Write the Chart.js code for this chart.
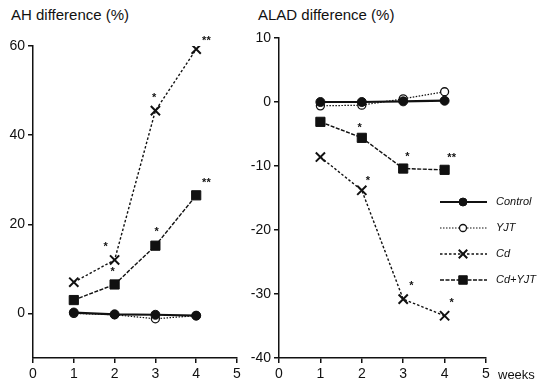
<!DOCTYPE html>
<html>
<head>
<meta charset="utf-8">
<script src="https://cdn.jsdelivr.net/npm/chart.js@4/dist/chart.umd.min.js"></script>
<style>
  body { margin: 0; background: #fff; width: 538px; height: 387px; position: relative; overflow: hidden;
         font-family: "Liberation Sans", Arial, sans-serif; color: #111; }
  .box { position: absolute; top: 0; height: 387px; }
  #leftBox { left: 0; width: 250px; }
  #rightBox { left: 250px; width: 288px; }
  .title { position: absolute; top: 6px; font-size: 15px; white-space: nowrap; }
</style>
</head>
<body>
<div class="title" style="left:11px">AH difference (%)</div>
<div class="title" style="left:258px">ALAD difference (%)</div>
<div class="box" id="leftBox"><canvas id="ahChart"></canvas></div>
<div class="box" id="rightBox"><canvas id="aladChart"></canvas></div>
<script>
// weeks and series values
const weeks = [1, 2, 3, 4];
const seriesNames = ['Control', 'YJT', 'Cd', 'Cd+YJT'];

const ahControl = [0.2, -0.2, -0.3, -0.5];
const ahYJT = [0, -0.3, -1.2, -0.5];
const ahCd = [7, 12, 45.5, 59.3];
const ahCdYJT = [3, 6.5, 15.2, 26.5];
const ahTicks = [0, 20, 40, 60];

const aladControl = [0, 0, 0.1, 0.2];
const aladYJT = [-0.6, -0.5, 0.5, 1.6];
const aladCd = [-8.6, -13.8, -30.8, -33.4];
const aladCdYJT = [-3.1, -5.6, -10.4, -10.6];
const aladTicks = [-40, -30, -20, -10, 0, 10];

const weekTicks = [0, 1, 2, 3, 4, 5];

// significance marks (x in weeks, y in %)
const ahStars = [
  { x: 1.78, y: 14.8, t: '*' }, { x: 1.95, y: 9.2, t: '*' },
  { x: 2.97, y: 48.3, t: '*' }, { x: 3.03, y: 18.3, t: '*' },
  { x: 4.25, y: 61.2, t: '**' }, { x: 4.25, y: 29.2, t: '**' }
];
const aladStars = [
  { x: 1.95, y: -4.1, t: '*' }, { x: 2.15, y: -12.4, t: '*' },
  { x: 3.1, y: -8.6, t: '*' }, { x: 4.17, y: -8.8, t: '**' },
  { x: 3.2, y: -28.7, t: '*' }, { x: 4.17, y: -31.4, t: '*' }
];

const ink = '#111';

const styles = [
  { borderDash: [], borderWidth: 2.2, pointStyle: 'circle', pointRadius: 4.5, bg: ink, pbw: 1 },
  { borderDash: [1.5, 1.5], borderWidth: 1.2, pointStyle: 'circle', pointRadius: 4, bg: '#fff', pbw: 1.3 },
  { borderDash: [2.5, 2], borderWidth: 1.4, pointStyle: 'crossRot', pointRadius: 6.5, bg: ink, pbw: 2 },
  { borderDash: [4, 1.5], borderWidth: 1.4, pointStyle: 'rect', pointRadius: 6.5, bg: ink, pbw: 1 }
];

function makeDatasets(values) {
  return values.map((vals, i) => ({
    label: seriesNames[i],
    data: weeks.map((w, j) => ({ x: w, y: vals[j] })),
    borderColor: ink,
    backgroundColor: styles[i].bg,
    borderWidth: styles[i].borderWidth,
    borderDash: styles[i].borderDash,
    pointStyle: styles[i].pointStyle,
    pointRadius: styles[i].pointRadius,
    pointBorderWidth: styles[i].pbw,
    pointBorderColor: ink,
    pointBackgroundColor: styles[i].bg,
    tension: 0,
    order: i === 0 ? 0 : i === 1 ? 1 : 2
  }));
}

function axis(min, max, tickList, fit) {
  return {
    type: 'linear', min: min, max: max,
    afterBuildTicks: s => { s.ticks = tickList.map(v => ({ value: v })); },
    ticks: { color: ink, font: { size: 14, family: '"Liberation Sans", Arial' }, padding: 3 },
    grid: { drawOnChartArea: false, tickLength: 5, color: ink, lineWidth: 1.5 },
    border: { color: ink, width: 1.5 },
    afterFit: fit
  };
}

const starsPlugin = {
  id: 'stars',
  afterDatasetsDraw(chart, args, opts) {
    const ctx = chart.ctx;
    const xs = chart.scales.x, ys = chart.scales.y;
    ctx.save();
    ctx.fillStyle = ink;
    ctx.font = 'bold 11px "Liberation Sans", Arial';
    ctx.textAlign = 'center';
    ctx.textBaseline = 'middle';
    opts.marks.forEach(m => ctx.fillText(m.t, xs.getPixelForValue(m.x), ys.getPixelForValue(m.y)));
    ctx.restore();
  }
};

const legendPlugin = {
  id: 'sideLegend',
  afterDraw(chart, args, opts) {
    if (!opts.show) return;
    const ctx = chart.ctx;
    const rows = [202, 228, 254, 280];
    ctx.save();
    chart.data.datasets.forEach((ds, i) => {
      const y = rows[i];
      ctx.strokeStyle = ink;
      ctx.lineWidth = ds.borderWidth;
      ctx.setLineDash(ds.borderDash);
      ctx.beginPath();
      ctx.moveTo(190, y);
      ctx.lineTo(237, y);
      ctx.stroke();
      ctx.setLineDash([]);
      ctx.fillStyle = ds.pointBackgroundColor;
      ctx.strokeStyle = ink;
      ctx.lineWidth = ds.pointBorderWidth;
      Chart.helpers.drawPoint(ctx, {
        pointStyle: ds.pointStyle, radius: ds.pointRadius - 0.5, borderWidth: ds.pointBorderWidth
      }, 213, y);
      ctx.fillStyle = ink;
      ctx.font = 'italic 11px "Liberation Sans", Arial';
      ctx.textAlign = 'left';
      ctx.textBaseline = 'middle';
      ctx.fillText(ds.label, 246, y);
    });
    ctx.font = '13px "Liberation Sans", Arial';
    ctx.textAlign = 'left';
    ctx.textBaseline = 'middle';
    ctx.fillText('weeks', 248, 375);
    ctx.restore();
  }
};

function makeChart(id, values, yMin, yMax, yTicks, yWidth, padRight, padTop, marks, showLegend) {
  return new Chart(document.getElementById(id), {
    type: 'line',
    data: { datasets: makeDatasets(values) },
    options: {
      responsive: true,
      maintainAspectRatio: false,
      animation: false,
      layout: { padding: { top: padTop, right: padRight, left: 0, bottom: 0 } },
      scales: {
        x: axis(0, 5, weekTicks, s => { s.height = 29; }),
        y: axis(yMin, yMax, yTicks, s => { s.width = yWidth; })
      },
      plugins: {
        legend: { display: false },
        tooltip: { enabled: false },
        stars: { marks: marks },
        sideLegend: { show: showLegend }
      }
    },
    plugins: [starsPlugin, legendPlugin]
  });
}

makeChart('ahChart', [ahControl, ahYJT, ahCd, ahCdYJT], -10, 60, ahTicks, 33, 13, 46, ahStars, false);
makeChart('aladChart', [aladControl, aladYJT, aladCd, aladCdYJT], -40, 10, aladTicks, 29, 52, 38, aladStars, true);
</script>
</body>
</html>
